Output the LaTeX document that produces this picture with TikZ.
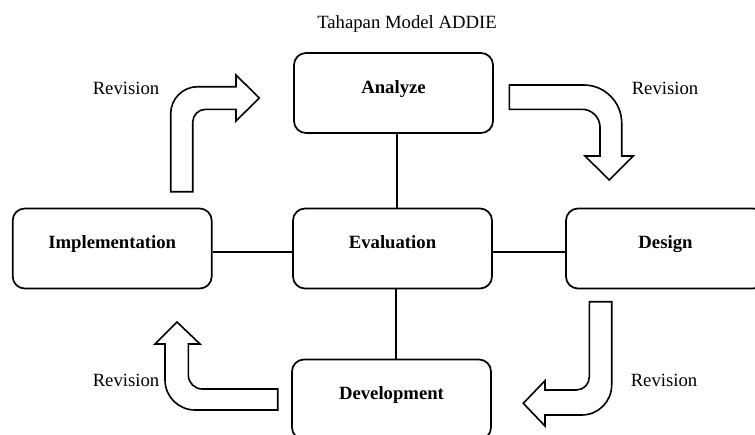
\documentclass[tikz,border=0pt]{standalone}
\usepackage{fontspec}
\setmainfont{Liberation Serif}
\begin{document}
\begin{tikzpicture}[x=1pt,y=-1pt,
  stagebox/.style={draw, line width=1.7pt, rounded corners=12pt, minimum width=199pt, minimum height=80pt,
    inner sep=0pt, text height=13pt, text depth=13pt, font=\fontsize{18.7}{22}\selectfont\bfseries},
  lbl/.style={anchor=base, inner sep=0pt, font=\fontsize{18.7}{22}\selectfont},
  link/.style={line width=1.8pt},
  bigarrow/.style={draw, line width=1.6pt, line join=miter, fill=white}]
\useasboundingbox (0,0) rectangle (755,434);
\fill[white] (0,0) rectangle (755,434);

\node[lbl] (title) at (407,28.3) {Tahapan Model ADDIE};

\node[stagebox] (analyze) at (393.5,93) {Analyze};
\node[stagebox] (impl) at (112.2,248.5) {Implementation};
\node[stagebox] (eval) at (392.5,248.5) {Evaluation};
\node[stagebox] (design) at (665.5,248.5) {Design};
\node[stagebox] (devel) at (391.5,399.5) {Development};

\coordinate (cxa) at (397,0);
\coordinate (cxb) at (396,0);
\coordinate (cy) at (0,252);
\draw[link] (analyze.south -| cxa) -- (eval.north -| cxa);
\draw[link] (eval.south -| cxb) -- (devel.north -| cxb);
\draw[link] (impl.east |- cy) -- (eval.west |- cy);
\draw[link] (eval.east |- cy) -- (design.west |- cy);

% Implementation -> Analyze
\draw[bigarrow] (170.7,191.7) [rounded corners=27pt] -- (170.7,86.7) [sharp corners] -- (236,86.7) -- (236,75) -- (259.3,98) -- (236,121) -- (236,109.3) [rounded corners=13pt] -- (192.7,109.3) [sharp corners] -- (192.7,191.7) -- cycle;
% Analyze -> Design
\draw[bigarrow] (509.3,85) [rounded corners=38pt] -- (621.7,85) [sharp corners] -- (621.7,156) -- (633.3,156) -- (609.3,180) -- (585,156) -- (600,156) [rounded corners=18pt] -- (600,109.3) [sharp corners] -- (509.3,109.3) -- cycle;
% Design -> Development
\draw[bigarrow] (589.3,301.7) -- (611.7,301.7) [rounded corners=30pt] -- (611.7,415) [sharp corners] -- (545,415) -- (545,426) -- (523.3,403.3) -- (545,380.7) -- (545,390) [rounded corners=13pt] -- (589.3,390) [sharp corners] -- cycle;
% Development -> Implementation
\draw[bigarrow] (277.7,410) [rounded corners=30pt] -- (165,410) [sharp corners] -- (165,344) -- (155,344) -- (177,322) -- (200,344) -- (188.3,344) [rounded corners=14pt] -- (188.3,389) [sharp corners] -- (277.7,389) -- cycle;

\node[lbl] (rev1) at (126,94) {Revision};
\node[lbl] (rev2) at (665,94) {Revision};
\node[lbl] (rev3) at (664,386) {Revision};
\node[lbl] (rev4) at (126,386) {Revision};
\end{tikzpicture}
\end{document}
